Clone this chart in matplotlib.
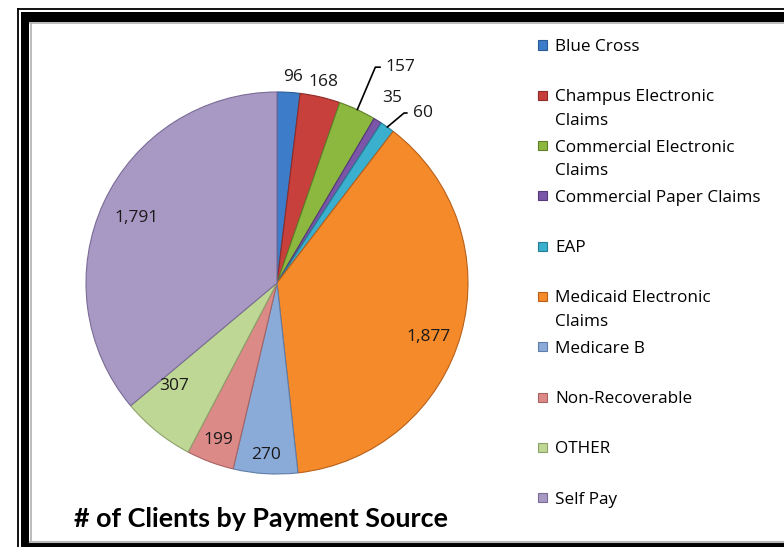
import matplotlib
matplotlib.use("Agg")
import matplotlib.pyplot as plt
import numpy as np
from matplotlib.patches import Rectangle
from matplotlib.lines import Line2D

categories = ["Blue Cross", "Champus Electronic\nClaims", "Commercial Electronic\nClaims",
              "Commercial Paper Claims", "EAP", "Medicaid Electronic\nClaims", "Medicare B",
              "Non-Recoverable", "OTHER", "Self Pay"]
values = [96, 168, 157, 35, 60, 1877, 270, 199, 307, 1791]
value_labels = ["96", "168", "157", "35", "60", "1,877", "270", "199", "307", "1,791"]
colors = ["#3D7CC9", "#C8403C", "#8DB83F", "#7A55A8", "#3AB0CE",
          "#F58A2A", "#8AAAD8", "#DB8A88", "#BFD795", "#A898C4"]
edge_colors = ["#2A5A95", "#8E2B28", "#5E7F2A", "#55397A", "#267D94",
               "#B8601A", "#5F7DA8", "#A86462", "#8DA26A", "#7A6C96"]
title = "# of Clients by Payment Source"

W, H = 784, 547
fig = plt.figure(figsize=(W / 100, H / 100), dpi=100)
fig.patch.set_facecolor("white")

def fx(px):
    return px / W

def fy(py):
    return 1 - py / H

Z = -10
# frame
fig.add_artist(Line2D([fx(17.5), fx(17.5)], [fy(8.5), fy(560)], color="black", lw=1.3, transform=fig.transFigure, zorder=Z))
fig.add_artist(Line2D([fx(17.5), fx(800)], [fy(8.5), fy(8.5)], color="black", lw=1.3, transform=fig.transFigure, zorder=Z))
fig.add_artist(Rectangle((fx(21), fy(560)), fx(800) - fx(21), fy(12) - fy(560), facecolor="black",
                         edgecolor="none", transform=fig.transFigure, zorder=Z))
fig.add_artist(Rectangle((fx(29), fy(543)), fx(800) - fx(29), fy(22) - fy(543), facecolor="white",
                         edgecolor="none", transform=fig.transFigure, zorder=Z + 1))
fig.add_artist(Line2D([fx(30.5), fx(30.5)], [fy(23), fy(542)], color="#b0b0b0", lw=1.2, transform=fig.transFigure, zorder=Z + 2))
fig.add_artist(Line2D([fx(30), fx(800)], [fy(23), fy(23)], color="#b0b0b0", lw=1.2, transform=fig.transFigure, zorder=Z + 2))
fig.add_artist(Line2D([fx(30), fx(800)], [fy(541.5), fy(541.5)], color="#b8b8b8", lw=1.5, transform=fig.transFigure, zorder=Z + 2))

# pie
cx, cy, R = 277, 283, 191
ax = fig.add_axes([fx(cx - R), fy(cy + R), (2 * R) / W, (2 * R) / H])
ax.set_zorder(1)
wedges, _ = ax.pie(values, colors=colors, startangle=90, counterclock=False, radius=1,
                   wedgeprops=dict(linewidth=0.8), frame=False)
for w, ec in zip(wedges, edge_colors):
    w.set_edgecolor(ec)
ax.set_aspect("auto")
ax.set_xlim(-1, 1)
ax.set_ylim(-1, 1)
ax.axis("off")

label_font = dict(family="Open Sans", fontsize=12.5, color="#1a1a1a")
# radial distance of each value label (style)
label_r = [1.08, 1.08, None, 1.14, None, 0.84, 0.90, 0.88, 0.76, 0.81]
label_dang = [-1, 0, 0, 0, 0, -4, 0, 0, -6, 0]
# leader-line label offsets (text left edge, in radius units) and leader angle
leader = {2: (0.57, 1.13, 67), 4: (0.71, 0.89, 40)}
for i, w in enumerate(wedges):
    mid = np.deg2rad((w.theta1 + w.theta2) / 2)
    if i in leader:
        ex, ey = np.cos(mid) * 1.0, np.sin(mid) * 1.0
        tx, ty, ang = leader[i]
        ax.annotate(value_labels[i], xy=(ex, ey), xytext=(tx, ty), ha="left", va="center",
                    arrowprops=dict(arrowstyle="-", color="black", lw=1.2,
                                    connectionstyle=f"angle,angleA=0,angleB={ang},rad=0",
                                    shrinkA=2, shrinkB=0),
                    annotation_clip=False, **label_font)
    else:
        a = mid + np.deg2rad(label_dang[i])
        ax.text(np.cos(a) * label_r[i], np.sin(a) * label_r[i], value_labels[i],
                ha="center", va="center", clip_on=False, **label_font)

# title
fig.text(fx(260.5), fy(519), title, ha="center", va="center", family="Lato",
         fontweight="bold", fontsize=19.4, color="black")

# legend
leg_y0, leg_pitch = 45, 50.3
for i, (lab, col, ec) in enumerate(zip(categories, colors, edge_colors)):
    y = leg_y0 + i * leg_pitch
    fig.add_artist(Rectangle((fx(538), fy(y + 4.5)), 9 / W, 9 / H, facecolor=col, edgecolor=ec,
                             lw=0.8, transform=fig.transFigure))
    fig.text(fx(555), fy(y - 6), lab, ha="left", va="top", family="Open Sans",
             fontsize=12.3, color="black", linespacing=1.65)

fig.savefig("out.png", dpi=100, facecolor="white")
